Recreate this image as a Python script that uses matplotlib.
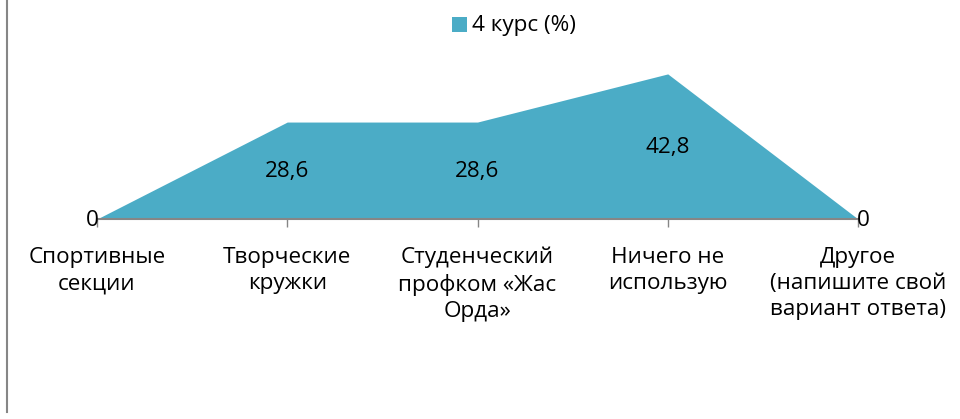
import matplotlib
matplotlib.use("Agg")
import matplotlib.pyplot as plt
from matplotlib.lines import Line2D
from matplotlib.patches import Rectangle

categories = ["Спортивные\nсекции", "Творческие\nкружки", "Студенческий\nпрофком «Жас\nОрда»",
              "Ничего не\nиспользую", "Другое\n(напишите свой\nвариант ответа)"]
values = [0, 28.6, 28.6, 42.8, 0]
labels = ["0", "28,6", "28,6", "42,8", "0"]
series_name = "4 курс (%)"

plt.rcParams['font.family'] = ['Open Sans', 'DejaVu Sans']
plt.rcParams['font.stretch'] = 'normal'
color = "#4BACC6"
fs = 16.2

W, H = 960, 419
fig = plt.figure(figsize=(W / 100, H / 100), dpi=100)
left, right = 97 / W, 858 / W
bottom = (H - 219) / H
top = (H - 49.5) / H
ax = fig.add_axes([left, bottom, right - left, top - bottom])
x = list(range(len(categories)))
ax.fill_between(x, values, 0, color=color, linewidth=0)
ax.set_xlim(0, len(categories) - 1)
ax.set_ylim(0, 50)
for s in ["top", "right", "left"]:
    ax.spines[s].set_visible(False)
ax.spines["bottom"].set_color("#868686")
ax.spines["bottom"].set_linewidth(1.5)
ax.spines["bottom"].set_zorder(3)
ax.set_yticks([])
ax.set_xticks(x)
ax.set_xticklabels(categories, fontsize=fs, linespacing=1.33)
ax.tick_params(axis="x", length=6, width=1, color="#868686", pad=14)
ax.patch.set_alpha(0)

for i, (v, lab) in enumerate(zip(values, labels)):
    dx = 0
    if v == 0:
        dx = -5 if i == 0 else 5
    ax.annotate(lab, (i, v / 2), xytext=(dx * 0.72, -1), textcoords="offset points",
                ha="center", va="center", fontsize=fs, zorder=5, annotation_clip=False)

# legend
fig.patches.append(Rectangle((452 / W, (H - 32) / H), 15 / W, 15 / H,
                             transform=fig.transFigure, facecolor=color, edgecolor="none"))
fig.text(472 / W, (H - 25) / H, series_name, ha="left", va="center", fontsize=fs)

# chart border (left edge visible)
fig.add_artist(Line2D([7 / W, 7 / W], [(H - 412) / H, 1.0], transform=fig.transFigure,
                      color="#868686", linewidth=1.5))

fig.savefig("out.png", dpi=100)
